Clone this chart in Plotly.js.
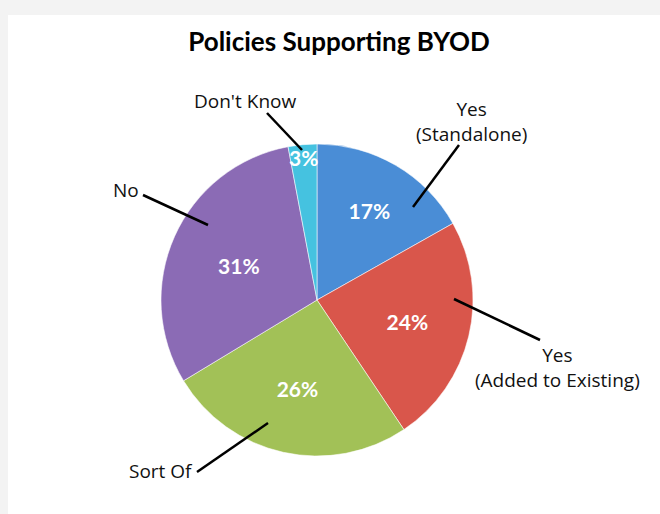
<!DOCTYPE html>
<html>
<head>
<meta charset="utf-8">
<script src="https://cdn.plot.ly/plotly-3.0.1.min.js"></script>
<style>html,body{margin:0;padding:0;background:#f3f3f3;}#chart{width:660px;height:514px;}</style>
</head>
<body>
<div id="chart"></div>
<script>
// Data
const categories = ["Yes (Standalone)", "Yes (Added to Existing)", "Sort Of", "No", "Don't Know"];
const values = [17, 24, 26, 31, 3];
const pctLabels = ["17%", "24%", "26%", "31%", "3%"];
const sliceColors = ["#4a8dd6", "#d9564b", "#a2c157", "#8b6bb5", "#45c2e0"];
const outsideLabels = ["Yes<br>(Standalone)", "Yes<br>(Added to Existing)", "Sort Of", "No", "Don't Know"];

const W = 660, H = 514;
const px = x => x / W;
const py = y => 1 - y / H;

// Leader line geometry (pixel positions of tip inside pie and outer end) and label anchor
const leaders = [
  {tip: [413, 207], end: [459, 145], label: [471, 121], xa: "center", ya: "middle"},
  {tip: [454, 299], end: [540, 340], label: [557, 367], xa: "center", ya: "middle"},
  {tip: [268, 423], end: [197, 472], label: [195, 471], xa: "right", ya: "middle"},
  {tip: [208, 225], end: [143, 195], label: [141, 190], xa: "right", ya: "middle"},
  {tip: [302, 150], end: [267, 113], label: [245, 101], xa: "center", ya: "middle"}
];

const shapes = [
  {type: "rect", xref: "paper", yref: "paper", x0: px(8), x1: 1, y0: 0, y1: py(15),
   fillcolor: "#ffffff", line: {width: 0}, layer: "below"}
];
const annotations = [];
leaders.forEach((l, i) => {
  shapes.push({type: "line", xref: "paper", yref: "paper",
    x0: px(l.tip[0]), y0: py(l.tip[1]), x1: px(l.end[0]), y1: py(l.end[1]),
    line: {color: "#000000", width: 2.5}, layer: "above"});
  annotations.push({xref: "paper", yref: "paper", x: px(l.label[0]), y: py(l.label[1]),
    xanchor: l.xa, yanchor: l.ya, text: outsideLabels[i], showarrow: false,
    font: {family: "'Open Sans', Lato, sans-serif", size: 19, color: "#111111"}});
});

const R = 156, cx = 317, cy = 300;
const trace = {
  type: "pie",
  labels: categories,
  values: values,
  text: pctLabels,
  textinfo: "text",
  textposition: "inside",
  insidetextorientation: "horizontal",
  sort: false,
  direction: "clockwise",
  rotation: 0,
  marker: {colors: sliceColors, line: {color: "rgba(255,255,255,0.55)", width: 1}},
  insidetextfont: {family: "Lato, 'Open Sans', sans-serif", size: 21, color: "#ffffff", weight: 700},
  domain: {x: [px(cx - R), px(cx + R)], y: [py(cy + R), py(cy - R)]},
  hoverinfo: "label+percent",
  showlegend: false
};

const layout = {
  width: W, height: H,
  margin: {l: 0, r: 0, t: 0, b: 0},
  paper_bgcolor: "#f3f3f3",
  uniformtext: {minsize: 21, mode: "show"},
  title: {text: "Policies Supporting BYOD", x: px(339), xanchor: "center", xref: "paper",
          y: py(42), yanchor: "middle", yref: "container",
          font: {family: "Lato, 'Open Sans', sans-serif", size: 26, color: "#000000", weight: 700}},
  shapes: shapes,
  annotations: annotations,
  showlegend: false
};

Plotly.newPlot("chart", [trace], layout, {displayModeBar: false, staticPlot: true});
</script>
</body>
</html>
